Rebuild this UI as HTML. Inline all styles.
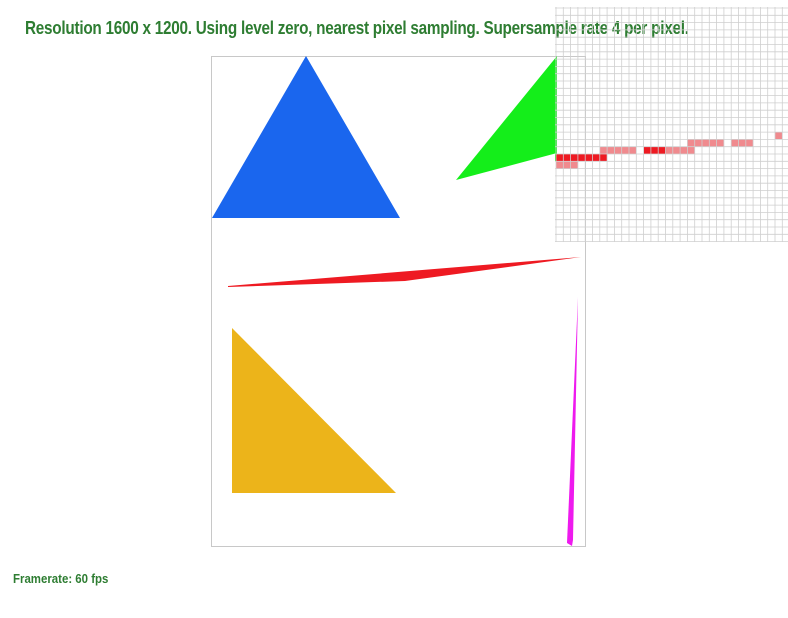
<!DOCTYPE html>
<html><head><meta charset="utf-8"><style>
body{margin:0;width:788px;height:618px;background:#fff;position:relative;overflow:hidden;font-family:"Liberation Sans",sans-serif}
.t{position:absolute;color:#2e7d32;font-weight:bold;white-space:nowrap}
</style></head><body>
<svg width="788" height="618" style="position:absolute;left:0;top:0">
<rect x="211.5" y="56.5" width="374" height="490" fill="#fff" stroke="#c8c8c8"/>
<polygon points="212,218 306,56 400,218" fill="#1a66ee"/>
<polygon points="456,180 557,56 557,153" fill="#14ee1a"/>
<polygon points="228,286 581,257 405,281 228,287" fill="#ee1a22"/>
<polygon points="232,328 232,493 396,493" fill="#ecb41a"/>
<polygon points="578,297 567,543 572,546 573,540" fill="#ee1aee"/>
</svg>
<div class="t" style="left:25px;top:18px;font-size:18px;letter-spacing:-0.3px;transform:scaleX(0.85);transform-origin:left">Resolution 1600 x 1200. Using level zero, nearest pixel sampling. Supersample rate 4 per pixel.</div>
<svg id="zoom" width="233" height="235" style="position:absolute;left:555px;top:7px"></svg>
<div class="t" style="left:13px;top:571px;font-size:13px;transform:scaleX(0.88);transform-origin:left">Framerate: 60 fps</div>
<script>
// pixel cells: column, row, intensity (1=full red, 0.5=partial)
const cellCols=[0,1,2,3,4,5,6, 0,1,2, 6,7,8,9,10, 12,13,14, 15,16,17,18, 18,19,20,21,22, 24,25,26, 30];
const cellRows=[20,20,20,20,20,20,20, 21,21,21, 19,19,19,19,19, 19,19,19, 19,19,19,19, 18,18,18,18,18, 18,18,18, 17];
const cellInt=[1,1,1,1,1,1,1, .5,.5,.5, .5,.5,.5,.5,.5, 1,1,1, .5,.5,.5,.5, .5,.5,.5,.5,.5, .5,.5,.5, .5];
const ns='http://www.w3.org/2000/svg';
const z=document.getElementById('zoom');
const cw=7.3,ch=7.3;
const gx=c=>1+c*cw, gy=r=>1+r*ch;
const g=document.createElementNS(ns,'rect');


g.setAttribute('x',0);g.setAttribute('y',gy(7.4));g.setAttribute('width',2);g.setAttribute('height',gy(21)-gy(7.4));g.setAttribute('fill','#14ee1a');
z.appendChild(g);
for(let i=0;i<cellCols.length;i++){
  const r=document.createElementNS(ns,'rect');
  
  
  r.setAttribute('x',gx(cellCols[i]));r.setAttribute('y',gy(cellRows[i]));
  r.setAttribute('width',cw);r.setAttribute('height',ch);
  r.setAttribute('fill',cellInt[i]===1?'#ee1a22':'#f08a8e');
  z.appendChild(r);
}
for(let k=0;k<=32;k++){
  const v=document.createElementNS(ns,'line');
  
  
  v.setAttribute('x1',gx(k));v.setAttribute('x2',gx(k));v.setAttribute('y1',0);v.setAttribute('y2',235);
  v.setAttribute('stroke','#cfcfcf');v.setAttribute('stroke-width','0.8');
  z.appendChild(v);
  const h=document.createElementNS(ns,'line');
  
  
  h.setAttribute('y1',gy(k));h.setAttribute('y2',gy(k));h.setAttribute('x1',0);h.setAttribute('x2',233);
  h.setAttribute('stroke','#cfcfcf');h.setAttribute('stroke-width','0.8');
  z.appendChild(h);
}
</script>
</body></html>
